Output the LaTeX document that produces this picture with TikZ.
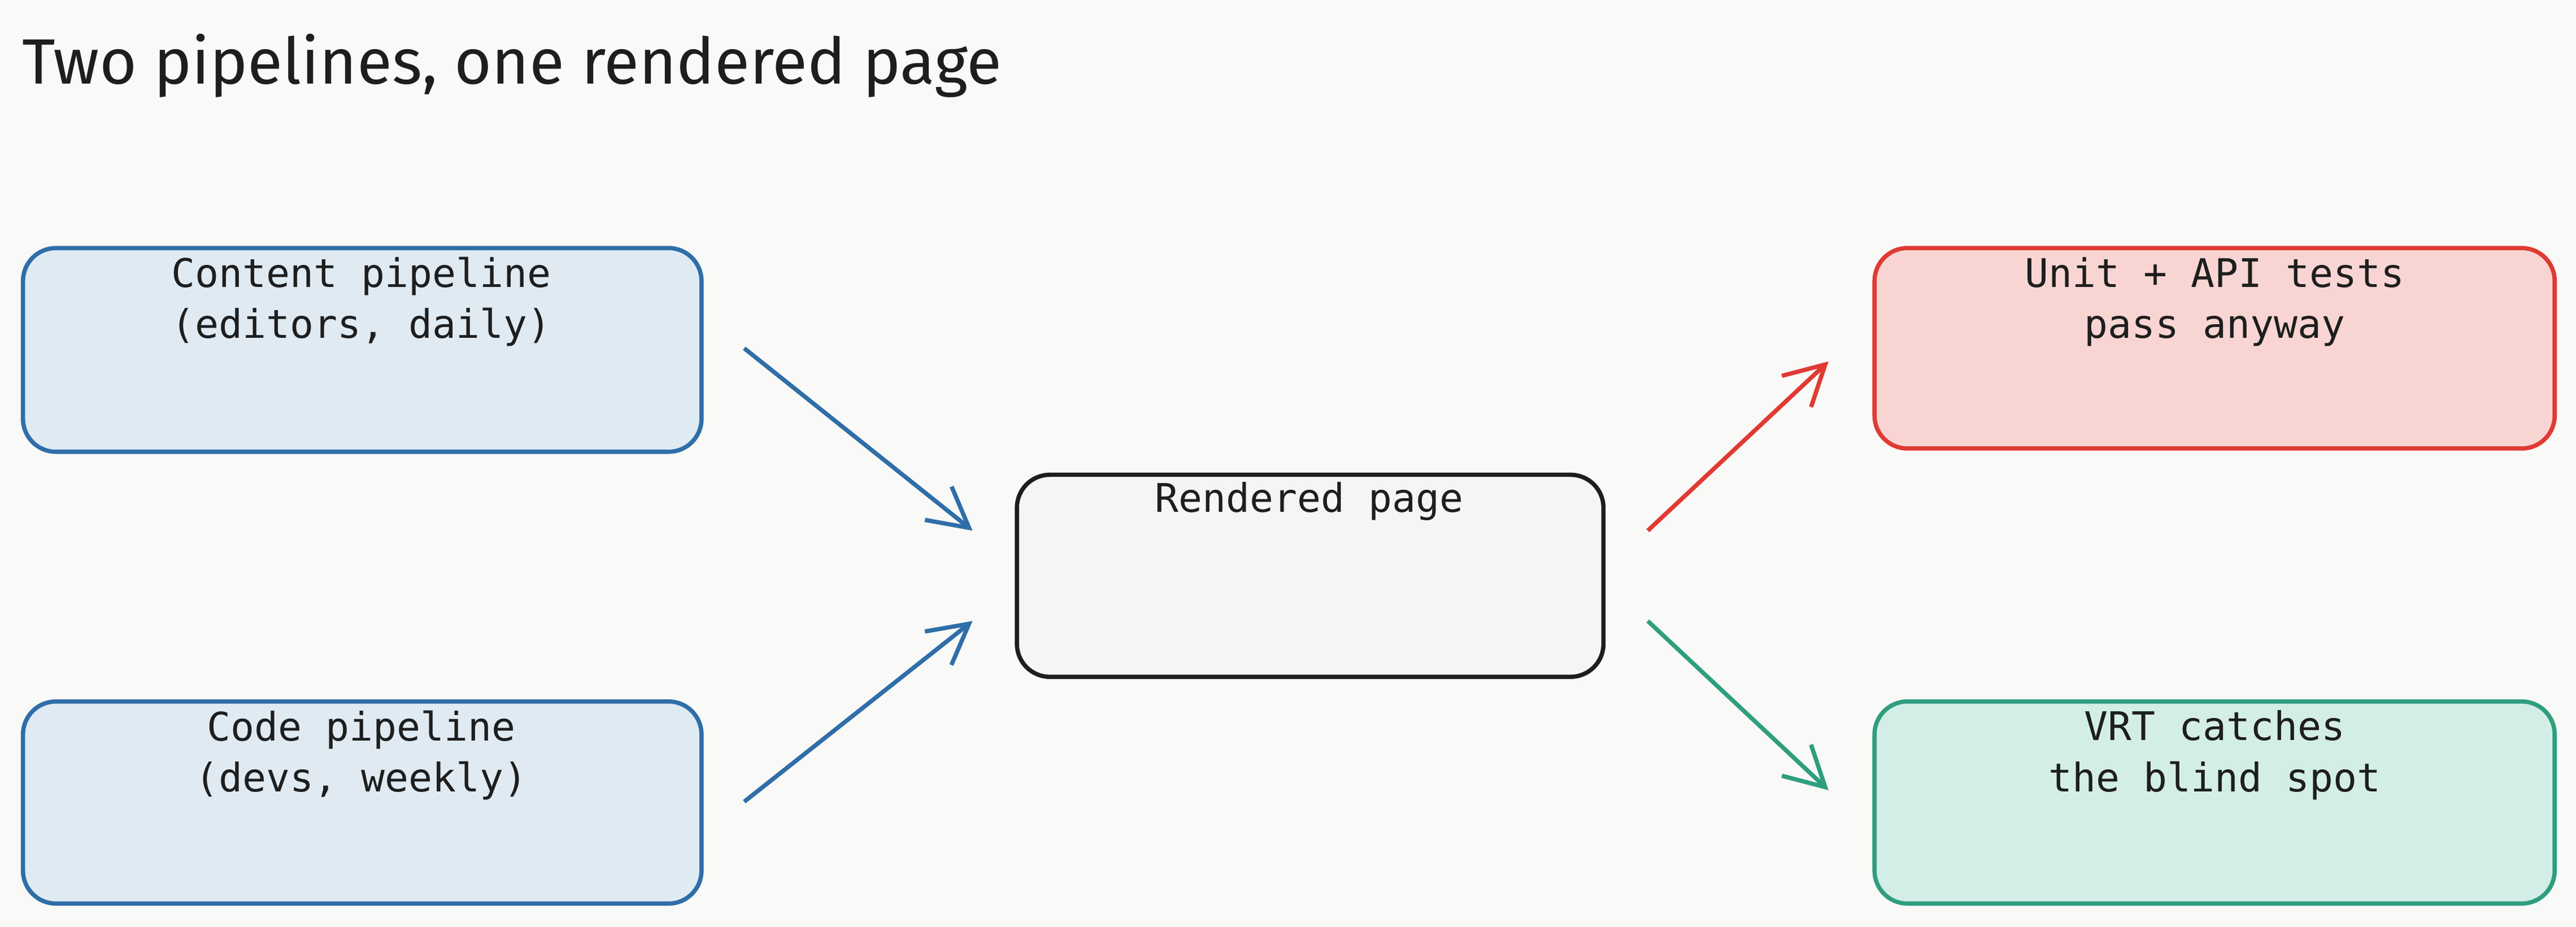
\documentclass[tikz,border=0pt]{standalone}
\usepackage{fontspec}
\setmonofont{DejaVu Sans Mono}
\newfontfamily\titlefont{Fira Sans}
\usetikzlibrary{arrows.meta}
\definecolor{bg}{HTML}{F9F9F7}
\definecolor{ink}{HTML}{1E1E1E}
\definecolor{bluS}{HTML}{2F6EA8}\definecolor{bluF}{HTML}{DFEAF3}
\definecolor{redS}{HTML}{E03A33}\definecolor{redF}{HTML}{F8D5D3}
\definecolor{grnS}{HTML}{2F9E7F}\definecolor{grnF}{HTML}{D3EEE6}
\definecolor{grayF}{HTML}{F5F5F4}
\begin{document}
\begin{tikzpicture}[x=1pt,y=-1pt,
  box/.style={rounded corners=20pt,line width=2.6pt},
  lbl/.style={font=\ttfamily\fontsize{24}{31}\selectfont,text=ink,align=center,anchor=north},
  arr/.style={line width=2.6pt,-{Straight Barb[length=24pt,width=26pt,line width=2.6pt]}}]
\fill[bg] (0,0) rectangle (1568,564);
\useasboundingbox (0,0) rectangle (1568,564);
\node[anchor=west,font=\titlefont\fontsize{39}{44}\selectfont,text=ink] (title) at (10,40) {Two pipelines, one rendered page};
\draw[box,draw=bluS,fill=bluF] (14,151) rectangle (427,275);
\node[lbl] (ct) at (220,153) {Content pipeline\\(editors, daily)};
\draw[box,draw=bluS,fill=bluF] (14,427) rectangle (427,550);
\node[lbl] (cd) at (220,429) {Code pipeline\\(devs, weekly)};
\draw[box,draw=ink,fill=grayF] (619,289) rectangle (976,412);
\node[lbl] (rp) at (797,290) {Rendered page};
\draw[box,draw=redS,fill=redF] (1141,151) rectangle (1555,273);
\node[lbl] (ut) at (1348,153) {Unit + API tests\\pass anyway};
\draw[box,draw=grnS,fill=grnF] (1141,427) rectangle (1555,550);
\node[lbl] (vr) at (1348,429) {VRT catches\\the blind spot};
\coordinate (a1s) at (453,212); \coordinate (a1e) at (592,323);
\coordinate (a2s) at (453,488); \coordinate (a2e) at (592,378);
\coordinate (a3s) at (1003,323); \coordinate (a3e) at (1113,220);
\coordinate (a4s) at (1003,378); \coordinate (a4e) at (1113,481);
\draw[arr,bluS] (a1s) -- (a1e);
\draw[arr,bluS] (a2s) -- (a2e);
\draw[arr,redS] (a3s) -- (a3e);
\draw[arr,grnS] (a4s) -- (a4e);
\end{tikzpicture}
\end{document}
